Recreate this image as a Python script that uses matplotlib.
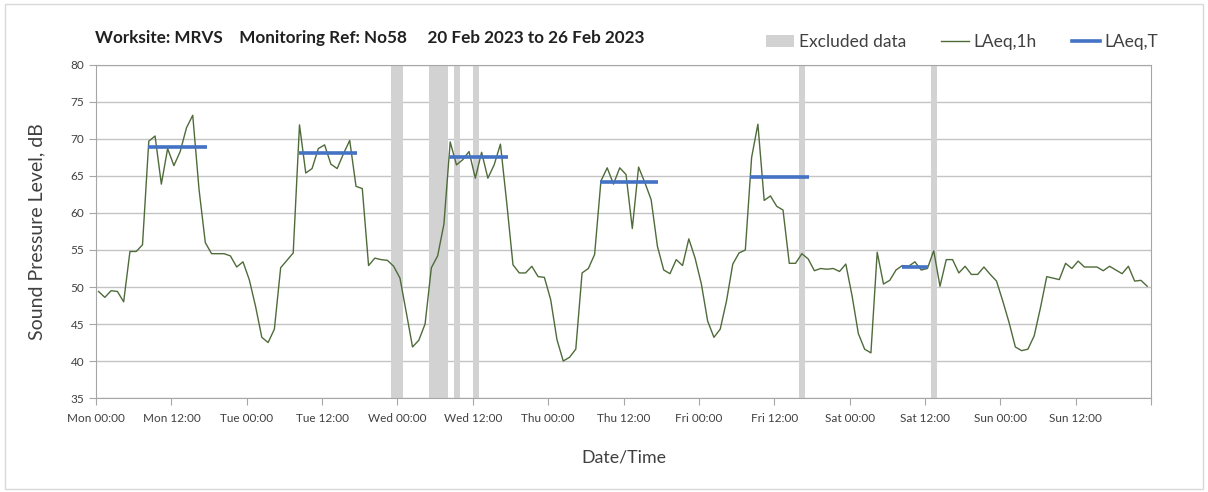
import numpy as np
import matplotlib
matplotlib.use("Agg")
import matplotlib.pyplot as plt
from matplotlib.patches import Patch, Rectangle
from matplotlib.lines import Line2D

plt.rcParams["font.family"] = ["Lato", "DejaVu Sans"]

# hourly LAeq,1h values, Mon 00:00 .. Sun 23:00 (logger stamps ~0.4 h past the hour)
hour_offset = 0.4
laeq_1h = [
    49.4, 48.6, 49.5, 49.4, 48.0, 54.8, 54.8, 55.7, 69.7, 70.4, 63.9, 68.7,
    66.4, 68.3, 71.5, 73.2, 63.2, 56.0, 54.5, 54.5, 54.5, 54.2, 52.7, 53.4,
    51.0, 47.4, 43.2, 42.5, 44.3, 52.6, 53.6, 54.6, 71.9, 65.4, 66.0, 68.7,
    69.2, 66.6, 66.0, 68.0, 69.8, 63.6, 63.3, 52.9, 53.9, 53.7, 53.6, 52.8,
    51.2, 46.6, 41.9, 42.8, 45.0, 52.6, 54.2, 58.5, 69.6, 66.5, 67.2, 68.3,
    64.7, 68.2, 64.7, 66.5, 69.3, 61.4, 53.0, 51.9, 51.9, 52.8, 51.4, 51.3,
    48.3, 42.9, 40.0, 40.5, 41.6, 51.9, 52.5, 54.4, 64.3, 66.1, 63.9, 66.1,
    65.2, 57.9, 66.2, 64.1, 61.8, 55.5, 52.3, 51.8, 53.7, 52.9, 56.5, 53.9,
    50.4, 45.4, 43.2, 44.3, 48.1, 53.1, 54.6, 55.0, 67.5, 72.0, 61.7, 62.3,
    60.9, 60.4, 53.2, 53.2, 54.5, 53.8, 52.2, 52.5, 52.4, 52.5, 52.1, 53.1,
    48.8, 43.7, 41.6, 41.1, 54.7, 50.4, 50.9, 52.3, 52.9, 52.8, 53.4, 52.3,
    52.5, 54.9, 50.1, 53.7, 53.7, 51.9, 52.8, 51.7, 51.7, 52.7, 51.7, 50.8,
    48.1, 45.2, 41.9, 41.4, 41.6, 43.4, 47.2, 51.4, 51.2, 51.0, 53.2, 52.5,
    53.5, 52.7, 52.7, 52.7, 52.2, 52.8, 52.3, 51.8, 52.8, 50.8, 50.9, 50.1,
]

# LAeq,T over the working periods (hours from Mon 00:00)
laeq_t_start = [8.3, 32.4, 56.2, 80.3, 104.2, 128.3]
laeq_t_end = [17.6, 41.5, 65.6, 89.5, 113.6, 132.5]
laeq_t = [68.9, 68.1, 67.6, 64.2, 64.9, 52.7]

# excluded periods (hours from Mon 00:00)
excl_start = [47.0, 53.0, 57.0, 60.0, 112.0, 132.9]
excl_end = [48.9, 56.0, 58.0, 61.0, 112.9, 133.9]

days = ["Mon", "Tue", "Wed", "Thu", "Fri", "Sat", "Sun"]
tick_labels = [f"{d} {t}" for d in days for t in ("00:00", "12:00")] + [""]

green = "#4F6B3A"
blue = "#4472C4"
band = "#D2D2D2"

fig = plt.figure(figsize=(12.08, 4.92), dpi=100)
ax = fig.add_axes([0.0795, 0.191, 0.8733, 0.677])

hours = np.arange(len(laeq_1h)) + hour_offset

for s, e in zip(excl_start, excl_end):
    ax.axvspan(s, e, color=band, lw=0, zorder=1)

ax.plot(hours, laeq_1h, color=green, lw=1.0, zorder=3)
ax.hlines(laeq_t, laeq_t_start, laeq_t_end, color=blue, lw=2.6, zorder=4)

ax.set_xlim(0, 168)
ax.set_ylim(35, 80)
ax.set_yticks(np.arange(35, 81, 5))
ax.set_xticks(np.arange(0, 169, 12))
ax.set_xticklabels(tick_labels)
ax.set_xticks(np.arange(0, 169, 24), minor=True)

ax.grid(True, axis="y", color="#C4C4C4", lw=1.0, zorder=0)
ax.grid(True, axis="x", which="minor", color="#DCDCDC", lw=1.0, zorder=0)
ax.set_axisbelow(True)

for sp in ax.spines.values():
    sp.set_color("#A6A6A6")
ax.tick_params(axis="both", which="major", color="#A6A6A6", length=5,
               labelsize=8.5, labelcolor="#404040")
ax.tick_params(axis="x", which="minor", length=0)
ax.tick_params(axis="x", pad=6)

ax.set_ylabel("Sound Pressure Level, dB", fontsize=14, color="#404040", labelpad=18)
ax.set_xlabel("Date/Time", fontsize=12.8, color="#404040", labelpad=18)

fig.text(0.079, 0.922, "Worksite: MRVS    Monitoring Ref: No58     20 Feb 2023 to 26 Feb 2023",
         fontsize=12.3, fontweight="bold", color="#202020", va="center")

handles = [
    Patch(facecolor=band, edgecolor="none"),
    Line2D([], [], color=green, lw=1.0),
    Line2D([], [], color=blue, lw=2.6),
]
fig.legend(handles, ["Excluded data", "LAeq,1h", "LAeq,T"], ncol=3,
           loc="center right", bbox_to_anchor=(0.972, 0.915), frameon=False,
           fontsize=12.5, handlelength=1.6, handletextpad=0.3, columnspacing=2.0,
           labelcolor="#404040")

fig.patches.append(Rectangle((0.004, 0.006), 0.992, 0.986, transform=fig.transFigure,
                             fill=False, edgecolor="#D9D9D9", lw=1.0))

fig.savefig("out.png", dpi=100)
